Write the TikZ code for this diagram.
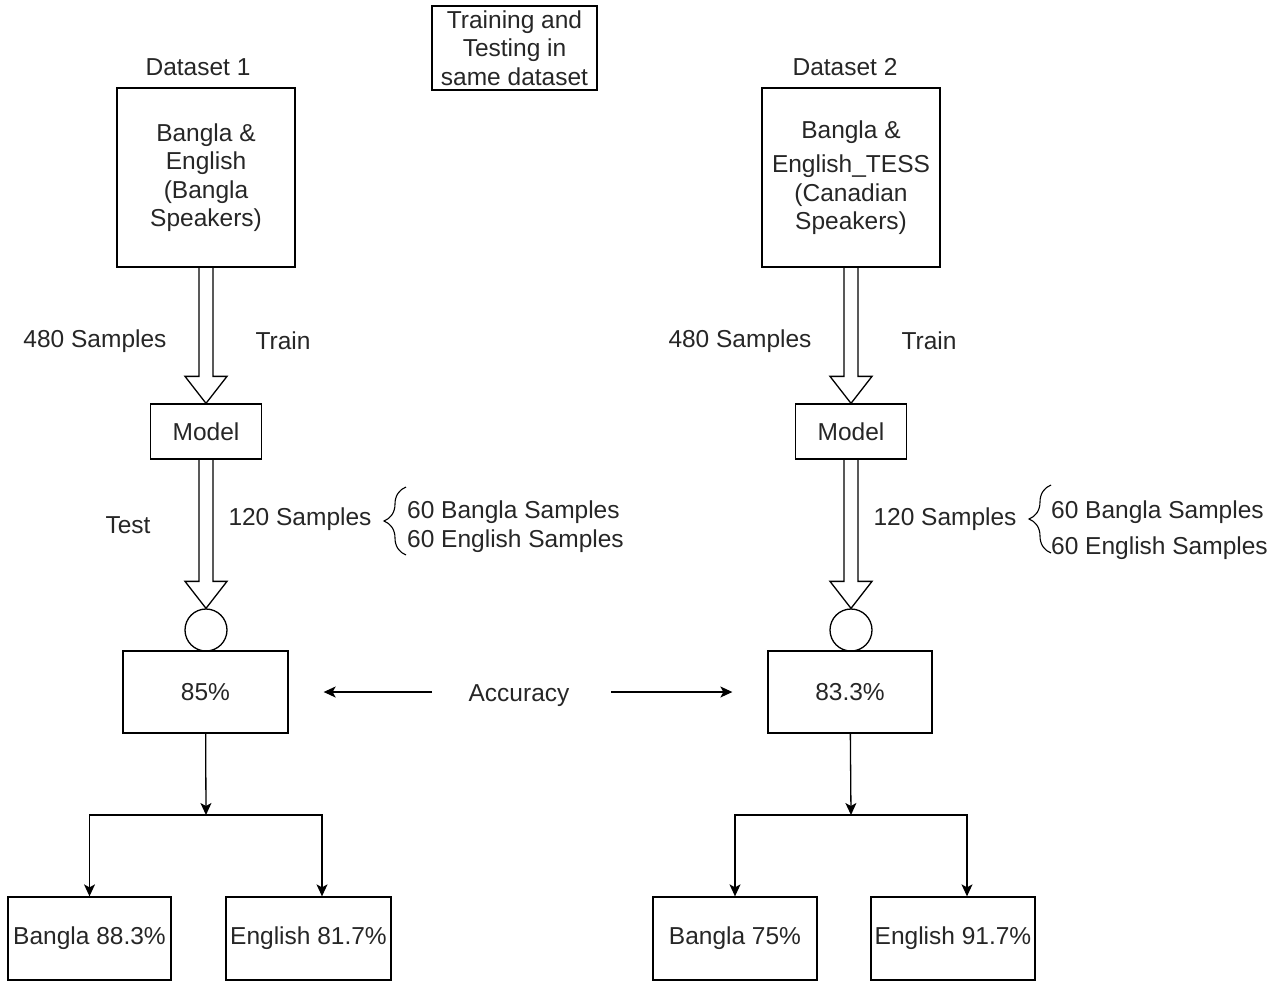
\documentclass[tikz,border=0pt]{standalone}
\usepackage{fontspec}
\setmainfont{Liberation Sans}
\usetikzlibrary{arrows.meta,calc,decorations.pathreplacing}
\definecolor{txt}{HTML}{262626}
% hollow block arrow between two vertically aligned anchors
\newcommand\blockarr[2]{%
  \draw[blk] ($(#1)+(-7,0)$) -- ($(#2)+(-7,-27)$) -- ($(#2)+(-21,-27)$) -- (#2)
    -- ($(#2)+(21,-27)$) -- ($(#2)+(7,-27)$) -- ($(#1)+(7,0)$);}
\begin{document}
\begin{tikzpicture}[x=1pt,y=-1pt,
  every node/.style={font=\fontsize{24.5}{28.5}\selectfont, text=txt},
  box/.style={draw, line width=1.3pt, inner sep=2pt, align=center},
  lbl/.style={inner sep=1pt, align=center, yshift=-2pt},
  blk/.style={draw, line width=1.3pt, line join=miter},
  arr/.style={draw, line width=1.3pt, -{Stealth[length=12pt,width=11pt,inset=3pt]}},
  brc/.style={draw, line width=1.1pt, decorate, decoration={brace, amplitude=22pt, aspect=0.5}},
  ring/.style={draw, circle, line width=1.3pt, minimum size=42pt, inner sep=0pt}]
\useasboundingbox (0,0) rectangle (1272,986);

% heading
\node[box, minimum width=165pt, minimum height=84pt] (title) at (514.5,48) {Training and\\Testing in\\same dataset};

% ---------------- dataset 1 ----------------
\node[lbl] (ds1) at (198,65) {Dataset 1};
\node[box, minimum width=178pt, minimum height=179pt] (d1) at (206,177.5) {Bangla \&\\English\\(Bangla\\Speakers)};
\node[box, minimum width=111pt, minimum height=55pt] (m1) at (206,431.5) {Model};
\node[ring] (c1) at (206,630) {};
\node[box, minimum width=165pt, minimum height=82pt] (r1) at (205.5,692) {85\%};
\node[box, minimum width=163pt, minimum height=83pt] (b1) at (89.5,938.5) {Bangla 88.3\%};
\node[box, minimum width=165pt, minimum height=83pt] (b2) at (308.5,938.5) {English 81.7\%};

\node[lbl] (s1) at (95,339) {480 Samples};
\node[lbl] (t1) at (283,339) {Train};
\node[lbl] (e1) at (128,523) {Test};
\node[lbl] (q1) at (300,517) {120 Samples};
\node[lbl, anchor=west] (q1a) at (406,510) {60 Bangla Samples};
\node[lbl, anchor=west] (q1b) at (406,539) {60 English Samples};
\coordinate (br1a) at (406,555);
\coordinate (br1b) at (406,487);
\draw[brc] (br1a) -- (br1b);

\blockarr{d1.south}{m1.north}
\blockarr{m1.south}{c1.north}

\coordinate (j1) at (206,815);
\draw[arr] (r1) -- (j1);
\draw[arr] (j1) -| (b1.north);
\draw[arr] (j1) -| ([xshift=13.5pt]b2.north);

% ---------------- dataset 2 ----------------
\node[lbl] (ds2) at (845,65) {Dataset 2};
\node[box, minimum width=178pt, minimum height=179pt] (d2) at (851,177.5) {Bangla \&\\[6pt]English\_TESS\\(Canadian\\Speakers)};
\node[box, minimum width=111pt, minimum height=55pt] (m2) at (851,431.5) {Model};
\node[ring] (c2) at (851,630) {};
\node[box, minimum width=164pt, minimum height=82pt] (r2) at (850,692) {83.3\%};
\node[box, minimum width=164pt, minimum height=83pt] (b3) at (735,938.5) {Bangla 75\%};
\node[box, minimum width=164pt, minimum height=83pt] (b4) at (953,938.5) {English 91.7\%};

\node[lbl] (s2) at (740,339) {480 Samples};
\node[lbl] (t2) at (929,339) {Train};
\node[lbl] (q2) at (945,517) {120 Samples};
\node[lbl, anchor=west] (q2a) at (1050,510) {60 Bangla Samples};
\node[lbl, anchor=west] (q2b) at (1050,546) {60 English Samples};
\coordinate (br2a) at (1051,553);
\coordinate (br2b) at (1051,485);
\draw[brc] (br2a) -- (br2b);

\blockarr{d2.south}{m2.north}
\blockarr{m2.south}{c2.north}

\coordinate (j2) at (851,815);
\draw[arr] (r2) -- (j2);
\draw[arr] (j2) -| (b3.north);
\draw[arr] (j2) -| ([xshift=14pt]b4.north);

% ---------------- accuracy ----------------
\node[lbl] (acc) at (519,694) {Accuracy};
\coordinate (aL) at (432,692);
\coordinate (aR) at (611,692);
\draw[arr] (aL) -- ([xshift=35pt]r1.east);
\draw[arr] (aR) -- ([xshift=-35pt]r2.west);
\end{tikzpicture}
\end{document}
